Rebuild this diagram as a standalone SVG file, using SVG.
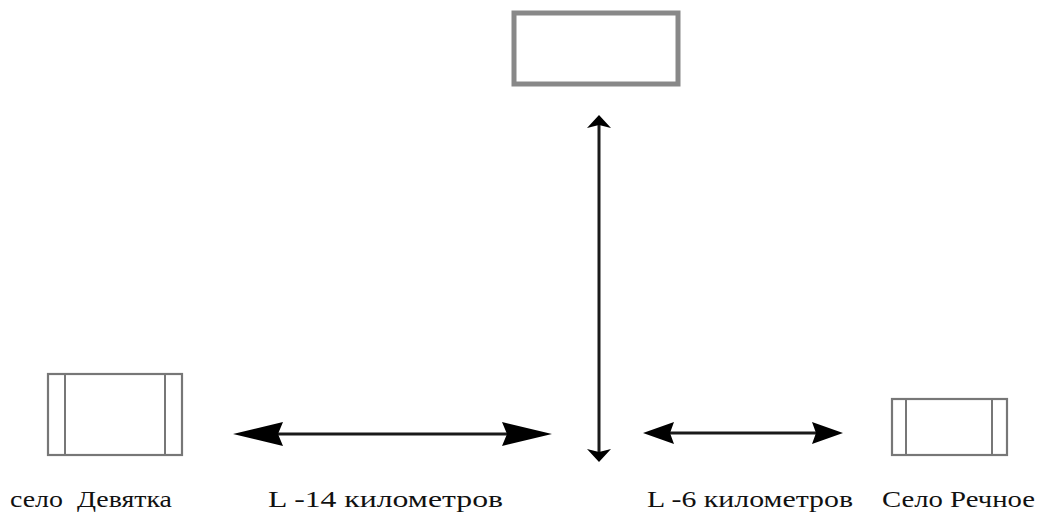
<svg xmlns="http://www.w3.org/2000/svg" width="1041" height="514" viewBox="0 0 1041 514">
<style>
.box{fill:#fff;stroke:#888;stroke-width:5}
.small{fill:#fff;stroke:#777;stroke-width:2.2}
.div{stroke:#777;stroke-width:2}
.line{stroke:#1a1a1a;stroke-width:3;fill:none}
.head{fill:#000}
.lbl{font-family:'Liberation Serif','DejaVu Serif','Times New Roman',serif;font-size:24px;fill:#111}
</style>
<rect width="1041" height="514" fill="#fff"/>
<g id="node-top">
<rect class="box" x="514" y="13" width="164" height="71"/>
</g>
<g id="node-devyatka">
<rect class="small" x="48" y="374" width="134" height="81"/>
<line class="div" x1="65" y1="374" x2="65" y2="455"/>
<line class="div" x1="165" y1="374" x2="165" y2="455"/>
<text class="lbl" x="10" y="507" textLength="162" lengthAdjust="spacingAndGlyphs" xml:space="preserve">село  Девятка</text>
</g>
<g id="node-rechnoe">
<rect class="small" x="892" y="399" width="115" height="56"/>
<line class="div" x1="906" y1="399" x2="906" y2="455"/>
<line class="div" x1="992" y1="399" x2="992" y2="455"/>
<text class="lbl" x="882" y="507" textLength="153" lengthAdjust="spacingAndGlyphs">Село Речное</text>
</g>
<g id="connectors">
<line class="line" x1="250" y1="434" x2="535" y2="434"/>
<polygon class="head" points="233,434 283,422 278,434 283,446"/>
<polygon class="head" points="552,434 502,422 507,434 502,446"/>
<line class="line" x1="655" y1="433" x2="830" y2="433"/>
<polygon class="head" points="643,433 674,422 670,433 674,444"/>
<polygon class="head" points="843,433 812,422 816,433 812,444"/>
<line class="line" x1="599" y1="122" x2="599" y2="455"/>
<polygon class="head" points="599,115 611,128 599,125 587,128"/>
<polygon class="head" points="599,462 611,449 599,452 587,449"/>
</g>
<g id="labels">
<text class="lbl" x="268" y="507" textLength="235" lengthAdjust="spacingAndGlyphs">L -14 километров</text>
<text class="lbl" x="647" y="507" textLength="206" lengthAdjust="spacingAndGlyphs">L -6 километров</text>
</g>
</svg>
